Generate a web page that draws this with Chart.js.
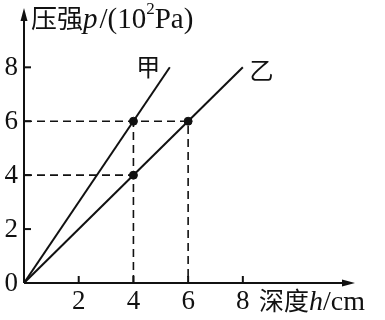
<!DOCTYPE html>
<html><head><meta charset="utf-8">
<script src="https://cdn.jsdelivr.net/npm/chart.js@4/dist/chart.umd.min.js"></script>
<style>html,body{margin:0;padding:0;background:#fff}#wrap{width:385px;height:320px}</style>
</head><body><div id="wrap"><canvas id="c" width="385" height="320"></canvas></div>
<script>
// data
const hJia = [0, 5.33];
const pJia = [0, 8];
const hYi = [0, 8];
const pYi = [0, 8];
const pointH = [4, 6, 4];
const pointP = [6, 6, 4];
const xTicks = [2, 4, 6, 8];
const yTicks = [0, 2, 4, 6, 8];
const dashH1 = [0, 6, 6]; const dashP1 = [6, 6, 0];   // horizontal at 6 then down at 6
const dashH2 = [0, 4]; const dashP2 = [4, 4];         // horizontal at 4
const dashH3 = [4, 4]; const dashP3 = [0, 6];         // vertical at 4
const seriesLabels = ['甲', '乙'];
const labelPos = [[4.54, 8.0], [8.68, 7.9]];

const pts = (xs, ys) => xs.map((x, i) => ({x, y: ys[i]}));
const SERIF = '"Liberation Serif","DejaVu Serif",serif';
const CJK = '"Noto Sans CJK SC",sans-serif';

const lineDs = (xs, ys, dash, w) => ({data: pts(xs, ys), showLine: true, borderColor: '#111', borderWidth: w,
  borderDash: dash, pointRadius: 0, pointHoverRadius: 0, fill: false, tension: 0});

const deco = {
  id: 'deco',
  afterDraw(chart) {
    const {ctx, scales: {x, y}} = chart;
    const x0 = x.getPixelForValue(0), y0 = y.getPixelForValue(0);
    const xe = x.right, yt = y.top;
    ctx.save();
    ctx.strokeStyle = '#111'; ctx.fillStyle = '#111'; ctx.lineWidth = 2;
    // axes
    ctx.beginPath(); ctx.moveTo(x0, y0); ctx.lineTo(xe - 6, y0); ctx.stroke();
    ctx.beginPath(); ctx.moveTo(x0, y0); ctx.lineTo(x0, yt + 6); ctx.stroke();
    // arrows
    ctx.beginPath(); ctx.moveTo(xe, y0); ctx.lineTo(xe - 13, y0 - 3.5); ctx.lineTo(xe - 13, y0 + 3.5); ctx.closePath(); ctx.fill();
    ctx.beginPath(); ctx.moveTo(x0, yt); ctx.lineTo(x0 - 3.5, yt + 13); ctx.lineTo(x0 + 3.5, yt + 13); ctx.closePath(); ctx.fill();
    // ticks
    xTicks.forEach(v => { const px = x.getPixelForValue(v); ctx.beginPath(); ctx.moveTo(px, y0); ctx.lineTo(px, y0 - 7); ctx.stroke(); });
    yTicks.forEach(v => { if (v === 0) return; const py = y.getPixelForValue(v); ctx.beginPath(); ctx.moveTo(x0, py); ctx.lineTo(x0 + 7, py); ctx.stroke(); });
    // tick labels
    ctx.font = '27px ' + SERIF; ctx.textBaseline = 'middle';
    ctx.textAlign = 'center';
    xTicks.forEach(v => ctx.fillText(String(v), x.getPixelForValue(v), y0 + 19));
    ctx.textAlign = 'right';
    yTicks.forEach(v => ctx.fillText(String(v), x0 - 6, y.getPixelForValue(v) + 1));
    // series labels
    ctx.font = '24px ' + CJK; ctx.textAlign = 'center';
    seriesLabels.forEach((s, i) => ctx.fillText(s, x.getPixelForValue(labelPos[i][0]), y.getPixelForValue(labelPos[i][1])));
    // y title
    ctx.textAlign = 'left'; ctx.textBaseline = 'alphabetic';
    let cx = 31, by = 28;
    const part = (t, f, dy) => { ctx.font = f; ctx.fillText(t, cx, by + (dy || 0)); cx += ctx.measureText(t).width; };
    part('压强', '26px ' + CJK);
    part('p', 'italic 29px ' + SERIF);
    cx += 2;
    part('/(10', '29px ' + SERIF);
    part('2', '17px ' + SERIF, -14);
    part('Pa)', '29px ' + SERIF);
    // x title
    cx = 259; by = 310;
    part('深度', '25px ' + CJK);
    part('h', 'italic 28px ' + SERIF);
    part('/cm', '28px ' + SERIF);
    ctx.restore();
  }
};

new Chart(document.getElementById('c'), {
  type: 'scatter',
  data: {datasets: [
    lineDs(hJia, pJia, [], 2),
    lineDs(hYi, pYi, [], 2),
    lineDs(dashH1, dashP1, [8, 5], 1.6),
    lineDs(dashH2, dashP2, [8, 5], 1.6),
    lineDs(dashH3, dashP3, [8, 5], 1.6),
    {data: pts(pointH, pointP), showLine: false, pointRadius: 4, backgroundColor: '#111', borderColor: '#111'}
  ]},
  plugins: [deco],
  options: {
    responsive: false, animation: false, events: [],
    layout: {padding: {left: 0, right: 30, top: 8, bottom: 0}},
    plugins: {legend: {display: false}, tooltip: {enabled: false}},
    scales: {
      x: {type: 'linear', min: 0, max: 12.1, border: {display: false}, grid: {display: false},
          ticks: {display: false}, afterFit: s => { s.height = 37; }},
      y: {type: 'linear', min: 0, max: 10.2, border: {display: false}, grid: {display: false},
          ticks: {display: false}, afterFit: s => { s.width = 24; }}
    }
  }
});
</script></body></html>
